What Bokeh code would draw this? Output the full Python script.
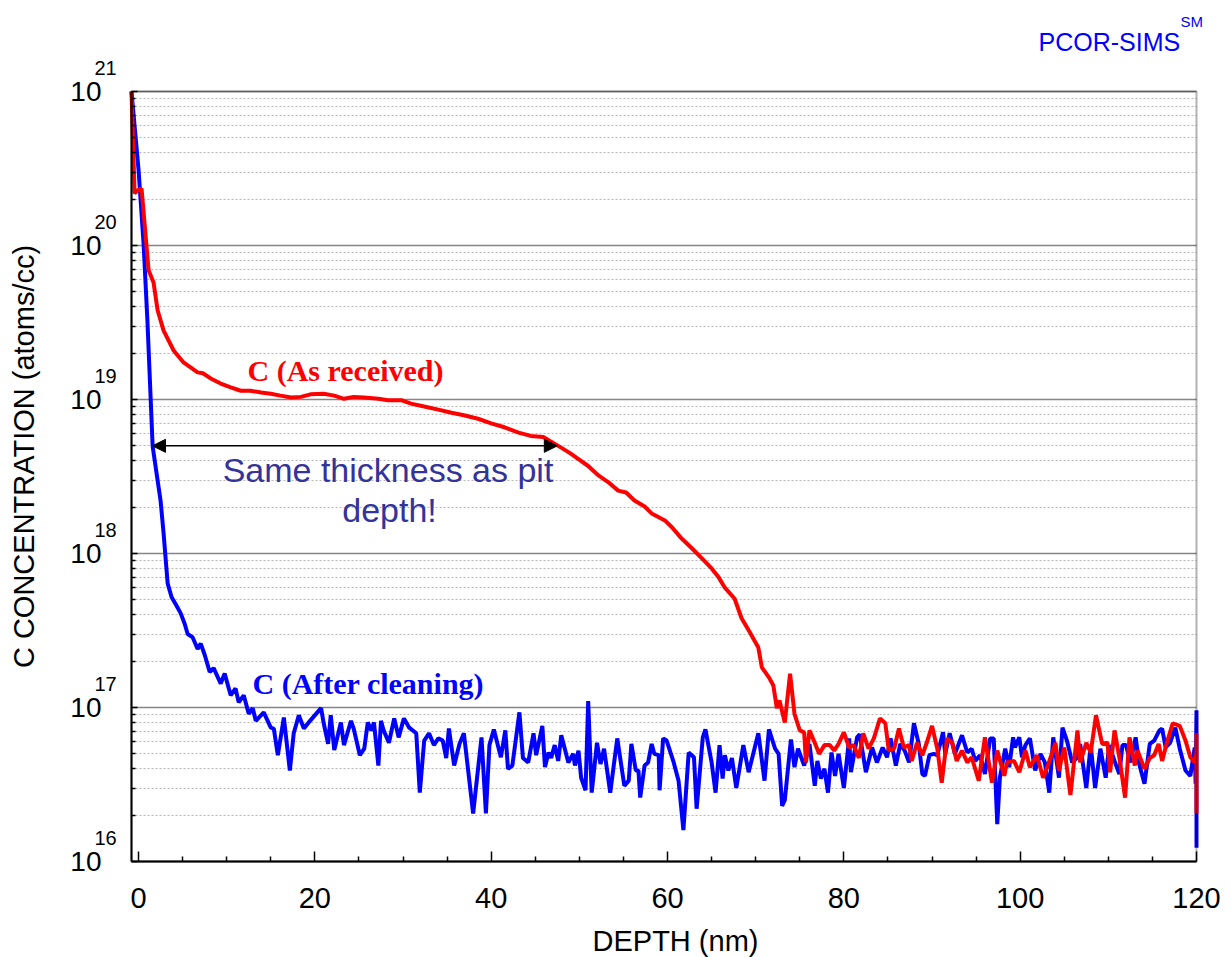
import math
from bokeh.plotting import figure
from bokeh.models import (Range1d, FixedTicker, CustomJSTickFormatter, Label,
                          Arrow, NormalHead, BoxAnnotation)
from bokeh.embed import file_html
from bokeh.resources import INLINE

# ---------------- data ----------------
blue_depth = [
    -0.8, 0.0, 0.57, 1.0, 1.6, 2.5, 2.84, 3.3, 3.75, 4.2,
    4.77, 5.23, 5.57, 6.14, 6.7, 7.05, 7.5, 8.07, 8.52, 9.32,
    9.77, 10.45, 11.0, 11.36, 11.93, 12.5, 12.95, 13.3, 14.2, 15.0,
    15.34, 15.8, 16.48, 17.16, 17.6, 18.18, 18.75, 19.3, 20.7, 21.0,
    21.5, 21.8, 22.2, 22.95, 23.3, 24.1, 24.4, 25.1, 25.6, 26.0,
    26.4, 26.7, 27.2, 27.5, 27.8, 28.4, 29.0, 29.5, 30.1, 30.7,
    31.5, 31.9, 32.4, 32.95, 33.5, 34.0, 34.5, 34.9, 35.2, 35.8,
    36.4, 36.9, 37.95, 38.9, 39.4, 39.8, 40.3, 41.1, 41.6, 41.9,
    42.4, 43.2, 43.6, 44.2, 44.8, 45.1, 45.8, 46.1, 46.5, 46.8,
    47.2, 47.6, 47.95, 48.75, 49.3, 49.5, 49.9, 50.2, 50.7, 51.0,
    51.4, 52.0, 52.4, 52.8, 53.5, 54.3, 55.1, 55.6, 55.9, 56.4,
    56.7, 56.9, 57.4, 57.8, 58.2, 58.5, 59.0, 59.1, 59.5, 59.9,
    60.7, 61.25, 61.8, 62.4, 63.0, 63.3, 64.0, 64.3, 65.0, 65.45,
    65.9, 66.25, 66.5, 66.9, 67.3, 67.8, 68.6, 69.2, 70.3, 71.0,
    71.5, 72.2, 72.6, 73.0, 73.3, 74.0, 74.4, 74.8, 75.5, 76.1,
    76.7, 77.0, 77.4, 77.8, 78.2, 78.6, 79.0, 79.4, 80.0, 80.6,
    80.8, 81.5, 81.8, 82.5, 83.2, 83.75, 84.4, 84.9, 85.3, 85.9,
    86.4, 86.9, 87.4, 87.95, 88.5, 88.9, 89.2, 89.7, 90.2, 90.6,
    91.25, 91.5, 92.0, 92.6, 93.4, 94.0, 94.5, 94.9, 95.45, 96.0,
    96.6, 97.0, 97.4, 97.7, 98.3, 98.75, 99.2, 99.4, 99.9, 100.2,
    100.6, 101.1, 101.7, 102.3, 102.8, 103.3, 103.75, 104.4, 104.8, 105.3,
    105.9, 106.5, 106.8, 107.5, 108.0, 108.5, 109.1, 109.7, 110.1, 110.7,
    111.25, 111.6, 112.0, 112.5, 113.1, 113.5, 114.1, 114.7, 115.2, 115.8,
    116.1, 116.5, 117.0, 117.6, 118.1, 118.75, 119.3, 119.8, 119.9, 120.0, 120.0,
]
blue_conc = [
    1.0e21, 3.1e20, 1.03e20, 3.3e19, 4.95e18, 2.2e18, 1.35e18, 6.4e17, 5.2e17, 4.7e17,
    4.1e17, 3.5e17, 3.0e17, 2.85e17, 2.4e17, 2.6e17, 2.2e17, 1.7e17, 1.8e17, 1.43e17,
    1.66e17, 1.2e17, 1.33e17, 1.08e17, 1.2e17, 9.1e16, 9.9e16, 8.2e16, 9.3e16, 7.4e16,
    7.3e16, 4.9e16, 8.6e16, 3.9e16, 6.8e16, 8.9e16, 7.3e16, 8.0e16, 9.9e16, 7.9e16,
    5.8e16, 8.9e16, 5.3e16, 8.0e16, 5.7e16, 8.2e16, 7.3e16, 4.9e16, 5.4e16, 8.0e16,
    7.1e16, 8.0e16, 4.2e16, 8.2e16, 7.1e16, 5.9e16, 8.5e16, 6.4e16, 8.5e16, 7.4e16,
    6.8e16, 2.8e16, 6.1e16, 6.8e16, 5.7e16, 6.3e16, 6.1e16, 4.7e16, 7.3e16, 4.2e16,
    5.8e16, 6.8e16, 2.05e16, 6.4e16, 2.05e16, 5.7e16, 7.2e16, 4.75e16, 7.1e16, 4.0e16,
    4.2e16, 9.3e16, 4.7e16, 4.4e16, 6.8e16, 4.9e16, 7.6e16, 4.1e16, 5.1e16, 4.7e16,
    5.7e16, 4.5e16, 6.6e16, 4.4e16, 5.0e16, 4.2e16, 5.25e16, 3.5e16, 2.9e16, 1.1e17,
    2.8e16, 5.9e16, 4.3e16, 5.4e16, 2.8e16, 6.3e16, 3.1e16, 3.35e16, 5.8e16, 3.9e16,
    3.9e16, 2.6e16, 4.2e16, 4.4e16, 5.8e16, 5.0e16, 4.9e16, 2.9e16, 6.3e16, 6.1e16,
    4.4e16, 3.35e16, 1.6e16, 5.1e16, 4.75e16, 2.2e16, 6.4e16, 7.2e16, 4.4e16, 2.8e16,
    5.7e16, 3.45e16, 4.9e16, 3.9e16, 4.7e16, 3.0e16, 5.7e16, 3.8e16, 6.8e16, 3.35e16,
    7.2e16, 5.4e16, 5.0e16, 2.3e16, 2.5e16, 6.2e16, 4.1e16, 5.4e16, 4.2e16, 5.8e16,
    3.1e16, 4.5e16, 3.45e16, 4.0e16, 2.8e16, 5.1e16, 3.6e16, 5.0e16, 3.0e16, 6.3e16,
    3.8e16, 6.4e16, 6.7e16, 3.8e16, 5.5e16, 4.4e16, 5.5e16, 4.75e16, 6.3e16, 4.2e16,
    5.8e16, 5.25e16, 4.4e16, 7.9e16, 5.8e16, 3.7e16, 3.6e16, 4.9e16, 5.0e16, 4.9e16,
    6.9e16, 5.0e16, 6.8e16, 5.0e16, 6.6e16, 5.1e16, 5.4e16, 4.5e16, 4.9e16, 3.7e16,
    6.3e16, 6.3e16, 1.75e16, 3.5e16, 5.4e16, 4.1e16, 6.4e16, 5.5e16, 6.4e16, 4.75e16,
    5.7e16, 6.3e16, 3.9e16, 5.0e16, 4.4e16, 2.8e16, 6.4e16, 3.5e16, 7.4e16, 6.1e16,
    4.4e16, 4.75e16, 5.8e16, 3.0e16, 5.7e16, 3.0e16, 5.4e16, 3.5e16, 5.7e16, 4.5e16,
    3.7e16, 5.7e16, 5.7e16, 4.4e16, 6.4e16, 4.3e16, 3.2e16, 5.8e16, 6.1e16, 7.1e16,
    7.3e16, 5.5e16, 5.9e16, 7.4e16, 5.4e16, 3.9e16, 3.6e16, 5.5e16, 3.2e16, 9.6e16, 1.23e16,
]

red_depth = [
    -0.8, -0.45, -0.1, 0.34, 1.14, 1.7, 2.16, 2.84, 3.98,
    5.1, 6.7, 7.3, 8.18, 9.32, 10.45, 11.6, 12.7, 13.9, 15.0,
    16.1, 17.3, 18.4, 19.5, 21.0, 22.2, 23.3, 24.4, 25.6, 27.2,
    28.3, 29.8, 30.9, 32.4, 34.0, 35.5, 36.9, 38.5, 40.0, 41.5,
    43.1, 44.5, 45.9, 47.6, 48.9, 49.9, 51.0, 52.2, 53.3, 54.4,
    55.3, 56.25, 57.4, 58.2, 59.7, 60.5, 61.6, 62.7, 63.9, 65.0,
    65.8, 66.5, 67.6, 68.4, 69.3, 70.3, 70.7, 71.5, 72.0, 72.4,
    72.7, 73.3, 73.9, 74.4, 75.0, 75.5, 75.7, 76.1, 76.7, 77.2,
    77.8, 78.4, 78.9, 79.4, 80.0, 80.6, 81.1, 81.7, 82.2, 82.8,
    83.4, 84.1, 84.7, 85.1, 85.7, 86.25, 86.8, 87.4, 87.7, 88.3,
    88.9, 89.4, 90.0, 90.6, 91.1, 91.7, 92.3, 92.8, 93.4, 94.0,
    94.5, 95.3, 96.0, 96.8, 97.4, 98.2, 98.5, 99.3, 99.9, 100.6,
    101.1, 101.9, 102.6, 103.2, 104.0, 104.4, 105.0, 105.7, 106.5, 106.8,
    107.5, 108.0, 108.6, 109.3, 109.9, 110.2, 110.7, 111.25, 111.9, 112.4,
    113.0, 113.3, 114.1, 114.7, 115.2, 115.7, 116.1, 116.6, 117.3, 118.1,
    118.75, 119.3, 119.8, 120.0, 120.0, 120.0,
]
red_conc = [
    1.0e21, 2.18e20, 2.28e20, 2.34e20, 6.9e19, 5.75e19, 3.8e19, 2.8e19, 2.08e19,
    1.74e19, 1.5e19, 1.48e19, 1.37e19, 1.27e19, 1.2e19, 1.14e19, 1.14e19, 1.11e19, 1.09e19,
    1.06e19, 1.03e19, 1.04e19, 1.08e19, 1.09e19, 1.06e19, 1.01e19, 1.04e19, 1.03e19, 1.01e19,
    9.9e18, 9.9e18, 9.4e18, 9.0e18, 8.6e18, 8.2e18, 7.9e18, 7.5e18, 7.0e18, 6.6e18,
    6.1e18, 5.8e18, 5.7e18, 5.0e18, 4.5e18, 4.1e18, 3.7e18, 3.2e18, 2.9e18, 2.56e18,
    2.49e18, 2.21e18, 2.02e18, 1.82e18, 1.64e18, 1.48e18, 1.25e18, 1.09e18, 9.3e17, 8.0e17,
    7.0e17, 6.0e17, 5.1e17, 3.8e17, 3.1e17, 2.45e17, 1.82e17, 1.57e17, 1.39e17, 9.9e16,
    1.11e17, 8.0e16, 1.66e17, 9.1e16, 7.1e16, 6.9e16, 4.4e16, 7.1e16, 5.9e16, 5.0e16,
    5.7e16, 5.7e16, 5.25e16, 5.8e16, 6.9e16, 5.5e16, 5.7e16, 4.7e16, 6.8e16, 5.4e16,
    6.3e16, 8.5e16, 7.9e16, 5.25e16, 5.4e16, 7.3e16, 5.5e16, 5.7e16, 4.5e16, 5.9e16,
    4.9e16, 5.9e16, 7.6e16, 5.4e16, 3.25e16, 6.3e16, 5.9e16, 4.5e16, 5.25e16, 4.4e16,
    4.75e16, 3.35e16, 6.4e16, 3.25e16, 5.25e16, 3.6e16, 4.4e16, 4.5e16, 3.8e16, 5.25e16,
    4.1e16, 4.9e16, 3.5e16, 4.3e16, 5.9e16, 3.9e16, 5.5e16, 2.7e16, 7.1e16, 4.4e16,
    5.9e16, 5.1e16, 8.9e16, 5.8e16, 5.9e16, 3.8e16, 7.1e16, 4.75e16, 2.6e16, 6.4e16,
    4.2e16, 5.25e16, 4.0e16, 4.7e16, 4.9e16, 5.8e16, 4.5e16, 5.8e16, 7.9e16, 7.6e16,
    6.1e16, 4.75e16, 4.4e16, 5.1e16, 6.8e16, 2.05e16,
]

x_major = [0, 20, 40, 60, 80, 100, 120]
x_minor = [5, 10, 15, 25, 30, 35, 45, 50, 55, 65, 70, 75, 85, 90, 95, 105, 110, 115]
y_exponents = [16, 17, 18, 19, 20, 21]
X_LO, X_HI = -0.8, 120.0
Y_LO, Y_HI = 1e16, 1e21

# ---------------- geometry of the page ----------------
W, H = 1231, 957
FL, FR, FT, FB = 131, 1196, 91, 861           # data box in canvas pixels
PX_PER_NM = (FR - FL) / (X_HI - X_LO)
PX_PER_DEC = (FB - FT) / (math.log10(Y_HI) - math.log10(Y_LO))


def dx(px):  # canvas x pixel -> depth
    return X_LO + (px - FL) / PX_PER_NM


def dy(py):  # canvas y pixel -> concentration
    return 10 ** (math.log10(Y_HI) - (py - FT) / PX_PER_DEC)


SANS = "Liberation Sans"
SERIF = "Liberation Serif"

p = figure(width=W, height=H,
           x_range=Range1d(dx(0), dx(W)), y_range=Range1d(dy(H), dy(0)),
           y_axis_type="log", output_backend="svg", toolbar_location=None,
           min_border=0)
p.background_fill_color = "white"
p.border_fill_color = "white"
p.outline_line_color = None

y_major = [10.0 ** e for e in y_exponents]
y_minor = [k * 10.0 ** e for e in y_exponents[:-1] for k in range(2, 10)]
yt = FixedTicker(ticks=y_major, minor_ticks=y_minor)
xt = FixedTicker(ticks=x_major, minor_ticks=x_minor)

xa = p.xaxis[0]
ya = p.yaxis[0]
xa.ticker = xt
ya.ticker = yt
xa.fixed_location = Y_LO
ya.fixed_location = X_LO
xa.bounds = (X_LO, X_HI)
ya.bounds = (Y_LO, Y_HI)

p.ygrid.ticker = yt
p.ygrid.bounds = (Y_LO, Y_HI)
if "cross_bounds" in p.ygrid.properties():
    p.ygrid.cross_bounds = (X_LO, X_HI)
p.xgrid.visible = False
p.ygrid.grid_line_color = "#858585"
p.ygrid.grid_line_width = 1.5
p.ygrid.minor_grid_line_color = "#b8b8b8"
p.ygrid.minor_grid_line_dash = "2 2"
p.ygrid.minor_grid_line_width = 1

for ax in (xa, ya):
    ax.axis_line_color = "black"
    ax.axis_line_width = 2
    ax.major_tick_line_color = "black"
    ax.minor_tick_line_color = "black"
    ax.major_tick_line_width = 1.5
    ax.minor_tick_line_width = 1.5
    ax.major_tick_out = 0
    ax.minor_tick_out = 0
    ax.major_label_text_font = SANS
    ax.major_label_text_color = "black"

xa.major_label_text_font_size = "29px"
xa.major_tick_in = 10
xa.minor_tick_in = 5
xa.major_label_standoff = 26
ya.major_label_text_font_size = "28px"
ya.major_tick_in = 6
ya.minor_tick_in = 4
ya.major_label_standoff = 30
ya.formatter = CustomJSTickFormatter(code="return '10';")

# data box border
p.add_layout(BoxAnnotation(left=X_LO, right=X_HI, bottom=Y_LO, top=Y_HI,
                           fill_alpha=0, line_color="black", line_width=2))

# exponents of the y tick labels
for e in y_exponents:
    p.add_layout(Label(x=dx(94), y=10.0 ** (e + 24 / PX_PER_DEC), text=str(e),
                       text_font=SANS, text_font_size="20px", text_color="black",
                       text_align="left", text_baseline="alphabetic"))

# axis titles
p.add_layout(Label(x=dx(23), y=dy(456), text="C CONCENTRATION (atoms/cc)",
                   angle=math.pi / 2, text_font=SANS, text_font_size="29px",
                   text_color="black", text_align="center", text_baseline="middle"))
p.add_layout(Label(x=dx(675), y=dy(940), text="DEPTH (nm)",
                   text_font=SANS, text_font_size="29px", text_color="black",
                   text_align="center", text_baseline="middle"))

# curves
p.line(blue_depth, blue_conc, line_color="#0000ff", line_width=4)
p.line(red_depth, red_conc, line_color="#ff0000", line_width=4)

# annotations
p.add_layout(Label(x=dx(247), y=dy(370), text="C (As received)", text_font=SERIF,
                   text_font_style="bold", text_font_size="30px", text_color="#ff0000",
                   text_align="left", text_baseline="alphabetic"))
p.add_layout(Label(x=dx(252), y=dy(683), text="C (After cleaning)", text_font=SERIF,
                   text_font_style="bold", text_font_size="30px", text_color="#0000ff",
                   text_align="left", text_baseline="alphabetic"))
p.add_layout(Label(x=dx(387.5), y=dy(469), text="Same thickness as pit", text_font=SANS,
                   text_font_size="34px", text_color="#333399",
                   text_align="center", text_baseline="alphabetic"))
p.add_layout(Label(x=dx(389), y=dy(509), text="depth!", text_font=SANS,
                   text_font_size="34px", text_color="#333399",
                   text_align="center", text_baseline="alphabetic"))
p.add_layout(Arrow(start=NormalHead(size=13, fill_color="black", line_color="black"),
                   end=NormalHead(size=13, fill_color="black", line_color="black"),
                   x_start=1.58, y_start=5.0e18, x_end=47.5, y_end=5.0e18,
                   line_color="black", line_width=1.5))

# brand mark
p.add_layout(Label(x=dx(1038), y=dy(41), text="PCOR-SIMS", text_font=SANS,
                   text_font_size="25px", text_color="#0000ff",
                   text_align="left", text_baseline="alphabetic"))
p.add_layout(Label(x=dx(1180), y=dy(21), text="SM", text_font=SANS,
                   text_font_size="15px", text_color="#0000ff",
                   text_align="left", text_baseline="alphabetic"))

open("out.html", "w").write(file_html(p, INLINE))
